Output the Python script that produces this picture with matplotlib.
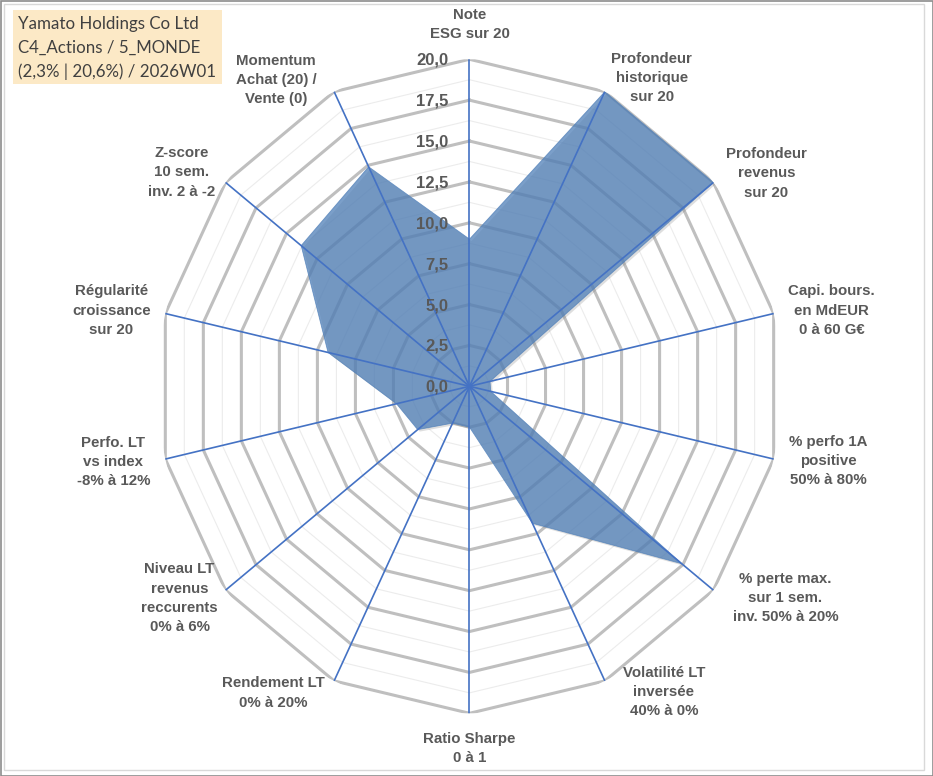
import numpy as np
import matplotlib
matplotlib.use('Agg')
import matplotlib.pyplot as plt
from matplotlib import transforms
from matplotlib.patches import Rectangle

# axes of the radar, clockwise from the top
categories = [
    'Note\nESG sur 20',
    'Profondeur\nhistorique\nsur 20',
    'Profondeur\nrevenus\nsur 20',
    'Capi. bours.\nen MdEUR\n0 à 60 G€',
    '% perfo 1A\npositive\n50% à 80%',
    '% perte max.\nsur 1 sem.\ninv. 50% à 20%',
    'Volatilité LT\ninversée\n40% à 0%',
    'Ratio Sharpe\n0 à 1',
    'Rendement LT\n0% à 20%',
    'Niveau LT\nrevenus\nreccurents\n0% à 6%',
    'Perfo. LT\nvs index\n-8% à 12%',
    'Régularité\ncroissance\nsur 20',
    'Z-score\n10 sem.\ninv. 2 à -2',
    'Momentum\nAchat (20) /\nVente (0)',
]
scores = [9.0, 20.0, 20.0, 1.35, 1.4, 17.4, 9.3, 2.5, 2.5, 4.25, 4.8, 9.3, 13.8, 14.9]
ticks = [0, 2.5, 5, 7.5, 10, 12.5, 15, 17.5, 20]
tick_labels = ['0,0', '2,5', '5,0', '7,5', '10,0', '12,5', '15,0', '17,5', '20,0']
minor_ticks = [1.25, 3.75, 6.25, 8.75, 11.25, 13.75, 16.25, 18.75]
title_lines = ['Yamato Holdings Co Ltd', 'C4_Actions / 5_MONDE', '(2,3% | 20,6%) / 2026W01']

# label offsets from the end of each spoke (pixels, x right / y up)
label_offsets = [(0, 35), (47, 14), (53, 9), (58, 3), (55, -2), (72, -8), (59, -11),
                 (0, -35), (-61, -12), (-46, -8), (-52, -3), (-54, 3), (-44, 10), (-58, 12)]

grey_txt = '#595959'
blue = '#4472C4'

n = len(categories)
theta = np.arange(n) * 2 * np.pi / n
theta_c = np.append(theta, theta[0])
vals_c = np.append(scores, scores[0])

fig = plt.figure(figsize=(9.33, 7.76), dpi=100)
fig.patch.set_facecolor('white')

ax = fig.add_axes([0.1688, 0.0808, 0.6688, 0.8428], projection='polar')
ax.set_theta_offset(np.pi / 2)
ax.set_theta_direction(-1)
ax.set_ylim(0, 20)
ax.grid(False)
ax.set_xticks([])
ax.set_yticks([])
ax.spines['polar'].set_visible(False)
ax.patch.set_visible(False)
ax.set_aspect('auto')

# polygon grid
for r in minor_ticks:
    ax.plot(theta_c, [r] * (n + 1), color='#ececec', lw=0.8, zorder=1)
for r in ticks[1:]:
    ax.plot(theta_c, [r] * (n + 1), color='#bfbfbf', lw=2.2, zorder=2,
            solid_joinstyle='miter')

# series with a light shadow
shadow = transforms.offset_copy(ax.transData, fig=fig, x=2, y=-2, units='dots')
ax.fill(theta_c, vals_c, color='#7f7f7f', alpha=0.25, lw=0, zorder=3, transform=shadow)
ax.fill(theta_c, vals_c, facecolor='#4f7fb8', alpha=0.75, edgecolor='#4f7fb8',
        lw=0.6, zorder=4)

# spokes
for t in theta:
    ax.plot([t, t], [0, 20], color=blue, lw=1.2, zorder=5)

# radial tick labels
for r, lab in zip(ticks, tick_labels):
    ax.annotate(lab, xy=(0, r), xytext=(-21, -1), textcoords='offset pixels',
                ha='right', va='center', fontsize=12, fontweight='bold',
                color=grey_txt, family='Liberation Sans', zorder=6,
                annotation_clip=False)

# category labels
for t, lab, off in zip(theta, categories, label_offsets):
    ax.annotate(lab, xy=(t, 20), xytext=off, textcoords='offset pixels',
                ha='center', va='center', multialignment='center',
                fontsize=10.8, fontweight='bold', color=grey_txt,
                family='Liberation Sans', linespacing=1.47,
                annotation_clip=False)

# title box
fig.patches.append(Rectangle((13 / 933, 1 - 84 / 776), 209 / 933, 74 / 776,
                             transform=fig.transFigure, facecolor='#fce9c6',
                             edgecolor='none', zorder=0))
for i, line in enumerate(title_lines):
    fig.text(18 / 933, 1 - (24 + 24 * i) / 776, line, ha='left', va='center',
             fontsize=12.2, color='#404040', family='Lato')

# chart borders
fig.patches.append(Rectangle((4 / 933, 6 / 776), 920 / 933, 766 / 776,
                             transform=fig.transFigure, facecolor='none',
                             edgecolor='#d9d9d9', lw=1.0))
fig.patches.append(Rectangle((0.5 / 933, 0.5 / 776), 932 / 933, 775 / 776,
                             transform=fig.transFigure, facecolor='none',
                             edgecolor='#8c8c8c', lw=1.2))

fig.savefig('out.png', dpi=100)
